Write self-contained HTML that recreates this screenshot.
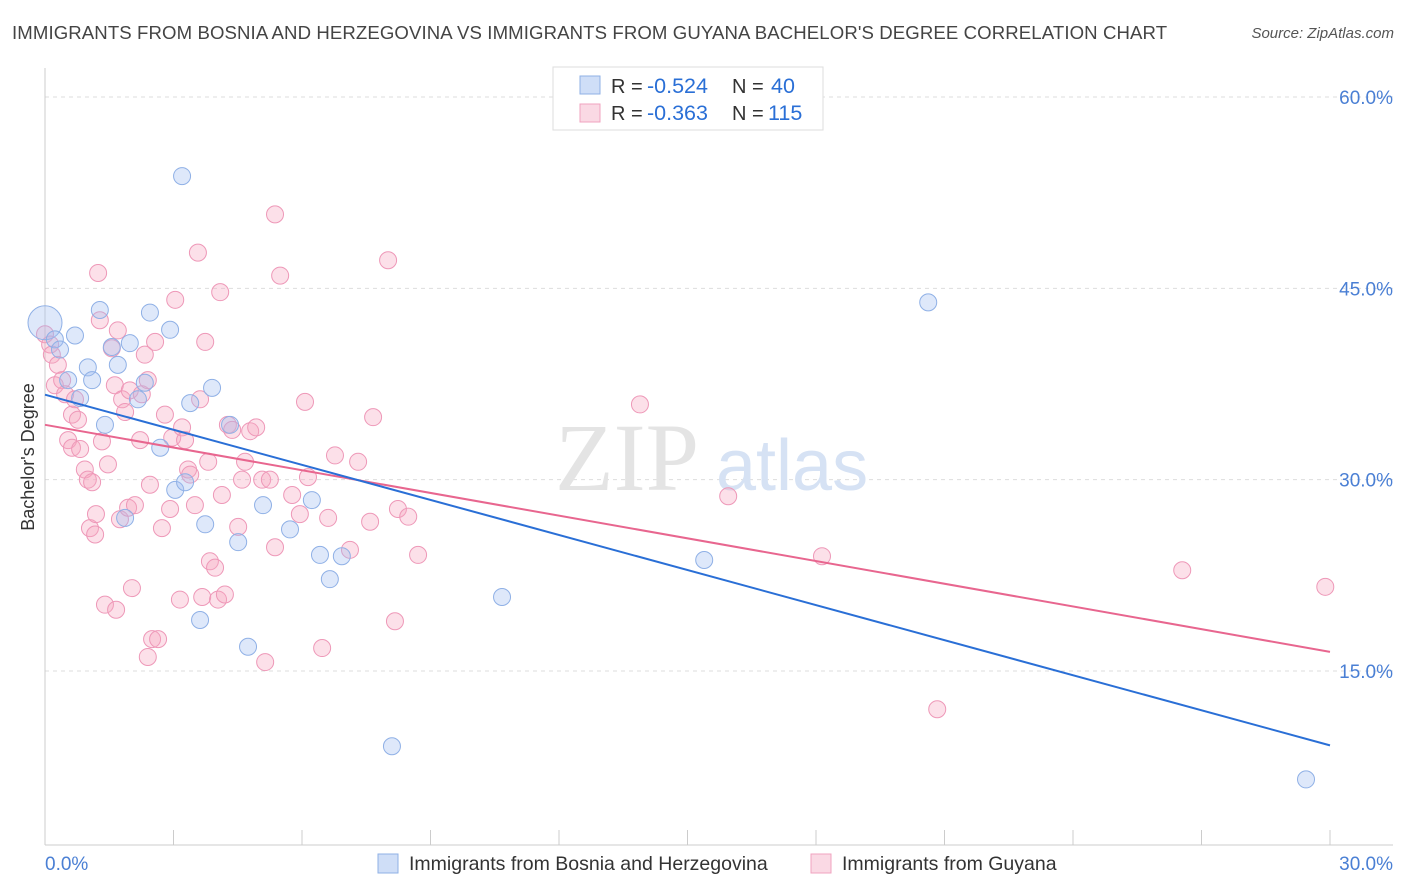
<!DOCTYPE html>
<html><head><meta charset="utf-8">
<style>
body{margin:0;background:#fff;font-family:"Liberation Sans",sans-serif;}
#wrap{position:relative;width:1406px;height:892px;overflow:hidden;}
.title{position:absolute;left:12px;top:22px;font-size:18.6px;color:#444;letter-spacing:0.1px;white-space:nowrap;}
.source{position:absolute;right:12px;top:25px;font-size:15px;color:#555;font-style:italic;}
</style></head>
<body>
<div id="wrap">
<div class="title">IMMIGRANTS FROM BOSNIA AND HERZEGOVINA VS IMMIGRANTS FROM GUYANA BACHELOR'S DEGREE CORRELATION CHART</div>
<div class="source">Source: ZipAtlas.com</div>
<svg id="svg" width="1406" height="892" style="position:absolute;left:0;top:0"></svg>
</div>
<script>
const blueX=[0,0.23,0.70,0.54,0.82,1.0,1.28,1.10,1.40,1.56,1.70,1.87,1.98,2.17,2.33,2.45,2.69,2.92,3.20,3.04,3.27,3.39,3.62,3.74,3.90,4.32,4.51,4.74,5.09,5.72,6.23,6.42,6.65,6.93,8.10,10.67,15.39,20.62,29.44,0.35];
const blueY=[42.3,41.0,41.3,37.8,36.4,38.8,43.3,37.8,34.3,40.4,39.0,27.0,40.7,36.3,37.6,43.1,32.5,41.75,53.8,29.2,29.8,36.0,19.0,26.5,37.2,34.3,25.1,16.9,28.0,26.1,28.4,24.1,22.2,24.0,9.1,20.8,23.7,43.9,6.5,40.2];
const pinkX=[0,0.12,0.16,0.23,0.30,0.40,0.47,0.54,0.63,0.63,0.70,0.77,0.82,0.93,1.0,1.05,1.10,1.17,1.19,1.24,1.28,1.33,1.40,1.47,1.56,1.63,1.66,1.70,1.75,1.80,1.87,1.94,1.98,2.03,2.10,2.22,2.26,2.33,2.40,2.45,2.50,2.40,2.57,2.64,2.73,2.80,2.92,3.04,2.97,3.15,3.20,3.27,3.34,3.39,3.50,3.57,3.62,3.67,3.74,3.81,3.85,3.97,4.04,4.09,4.13,4.20,4.27,4.37,4.51,4.60,4.67,4.79,4.93,5.07,5.14,5.25,5.37,5.37,5.49,5.77,5.95,6.07,6.14,6.47,6.61,6.77,7.12,7.31,7.59,7.66,8.01,8.17,8.24,8.48,8.71,13.89,15.95,18.14,20.83,26.55,29.89];
const pinkY=[41.4,40.6,39.8,37.4,39.0,37.8,36.7,33.1,32.5,35.1,36.3,34.7,32.4,30.8,30.0,26.2,29.8,25.7,27.3,46.2,42.5,33.0,20.2,31.2,40.3,37.4,19.8,41.7,26.9,36.3,35.3,27.8,37.0,21.5,28.0,33.1,36.7,39.8,37.8,29.6,17.5,16.1,40.8,17.5,26.2,35.1,27.7,44.1,33.3,20.6,34.1,33.1,30.8,30.4,28.0,47.8,36.3,20.8,40.8,31.4,23.6,23.1,20.6,44.7,28.8,21.0,34.3,33.9,26.3,30.0,31.4,33.8,34.1,30.0,15.7,30.0,24.7,50.8,46.0,28.8,27.3,36.1,30.2,16.8,27.0,31.9,24.5,31.4,26.7,34.9,47.2,18.9,27.7,27.1,24.1,35.9,28.7,24.0,12.0,22.9,21.6];
const blueTrend=[36.66,9.17];
const pinkTrend=[34.3,16.5];
const yTicks=[60,45,30,15];
const yTickLabels=["60.0%","45.0%","30.0%","15.0%"];
const xTickVals=[0,3,6,9,12,15,18,21,24,27,30];

const NS="http://www.w3.org/2000/svg";
const svg=document.getElementById('svg');
const X0=45,X1=1330,Y60=97,PXV=(671-97)/45;
const sx=v=>X0+(X1-X0)*v/30;
const sy=v=>Y60+(60-v)*PXV;
function mk(t,a,p){const e=document.createElementNS(NS,t);for(const k in a)e.setAttribute(k,a[k]);(p||svg).appendChild(e);return e;}

yTicks.forEach((v,i)=>{
  const g=mk('line',{x1:45,x2:1393,y1:sy(v),y2:sy(v),stroke:'#ddd','stroke-dasharray':'4,4'});
  
  
  const t=mk('text',{x:1393,y:sy(v)+7,'text-anchor':'end','font-size':19,fill:'#4a7fd4','font-family':'Liberation Sans, sans-serif'});
  t.textContent=yTickLabels[i];
  
  
});
let a=mk('line',{x1:45,x2:45,y1:68,y2:845,stroke:'#ccc'});


a=mk('line',{x1:45,x2:1393,y1:845,y2:845,stroke:'#ccc'});


xTickVals.forEach(v=>{
  const t=mk('line',{x1:sx(v),x2:sx(v),y1:830,y2:845,stroke:'#ccc'});
  
  
});
let t=mk('text',{x:45,y:870,'font-size':19,fill:'#4a7fd4','font-family':'Liberation Sans, sans-serif'});t.textContent='0.0%';


t=mk('text',{x:1393,y:870,'text-anchor':'end','font-size':19,fill:'#4a7fd4','font-family':'Liberation Sans, sans-serif'});t.textContent='30.0%';


t=mk('text',{x:34,y:457,'text-anchor':'middle','font-size':18,fill:'#333',transform:'rotate(-90 34 457)','font-family':'Liberation Sans, sans-serif'});t.textContent="Bachelor's Degree";


t=mk('text',{x:555,y:490,'font-size':96,fill:'#e4e4e4','font-family':'Liberation Serif, serif'});t.textContent='ZIP';


t=mk('text',{x:716,y:490,'font-size':72,fill:'#d6e2f4','font-family':'Liberation Sans, sans-serif'});t.textContent='atlas';


pinkX.forEach((v,i)=>{
  const c=mk('circle',{cx:sx(v),cy:sy(pinkY[i]),r:8.5,fill:'rgba(245,165,192,0.35)',stroke:'#ee98b8','stroke-width':1});
  
  
});
blueX.forEach((v,i)=>{
  const c=mk('circle',{cx:sx(v),cy:sy(blueY[i]),r:i===0?17:8.5,fill:'rgba(160,190,240,0.35)',stroke:'#8fb0e6','stroke-width':1});
  
  
});
let l=mk('line',{x1:sx(0),x2:sx(30),y1:sy(pinkTrend[0]),y2:sy(pinkTrend[1]),stroke:'#e8668f','stroke-width':2});


l=mk('line',{x1:sx(0),x2:sx(30),y1:sy(blueTrend[0]),y2:sy(blueTrend[1]),stroke:'#2a6fd6','stroke-width':2});



const lg=mk('g',{});


mk('rect',{x:553,y:67,width:270,height:63,fill:'#fff',stroke:'#ddd'},lg);
mk('rect',{x:580,y:76,width:20,height:18,fill:'rgba(160,190,240,0.5)',stroke:'#8fb0e6'},lg);
mk('rect',{x:580,y:104,width:20,height:18,fill:'rgba(245,170,195,0.45)',stroke:'#f0a3bf'},lg);
function lt(x,y,s,c,fs){const e=mk('text',{x:x,y:y,'font-size':fs||20,fill:c,'font-family':'Liberation Sans, sans-serif'},lg);e.textContent=s;return e;}
lt(611,93,'R = ','#333');lt(647,93,'-0.524','#2a6fd6',21.5);lt(732,93,'N = ','#333');lt(771,93,'40','#2a6fd6',21.5);
lt(611,120,'R = ','#333');lt(647,120,'-0.363','#2a6fd6',21.5);lt(732,120,'N = ','#333');lt(768,120,'115','#2a6fd6',21.5);

const bl=mk('g',{});


mk('rect',{x:378,y:854,width:20,height:19,fill:'rgba(160,190,240,0.5)',stroke:'#8fb0e6'},bl);
mk('rect',{x:811,y:854,width:20,height:19,fill:'rgba(245,170,195,0.45)',stroke:'#f0a3bf'},bl);
let e=mk('text',{x:409,y:870,'font-size':19.5,fill:'#333','font-family':'Liberation Sans, sans-serif'},bl);e.textContent='Immigrants from Bosnia and Herzegovina';


e=mk('text',{x:842,y:870,'font-size':19.5,fill:'#333','font-family':'Liberation Sans, sans-serif'},bl);e.textContent='Immigrants from Guyana';


</script>
</body></html>
